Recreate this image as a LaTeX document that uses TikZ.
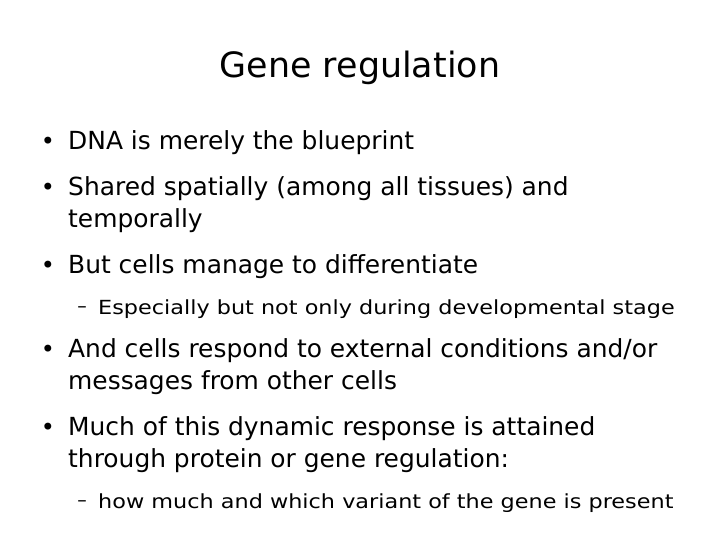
\documentclass[tikz,border=0pt]{standalone}
\usepackage{fontspec}
\setmainfont{DejaVu Sans}
\begin{document}
\begin{tikzpicture}[x=1bp,y=-1bp,
  ln/.style={anchor=west,inner sep=0pt,font=\fontsize{25}{30}\selectfont},
  sl/.style={anchor=west,inner sep=0pt,xscale=1.15,font=\fontsize{19.5}{22}\selectfont},
  bl/.style={anchor=center,inner sep=0pt,font=\fontsize{24}{26}\selectfont},
  sb/.style={anchor=center,inner sep=0pt,font=\fontsize{19}{22}\selectfont}]
\useasboundingbox (0,0) rectangle (720,540);
\node[inner sep=0pt,font=\fontsize{35}{40}\selectfont] (title) at (360,68) {Gene regulation};
\node[bl] (b1) at (48,143) {•};
\node[ln] (t1) at (68,143) {DNA is merely the blueprint};
\node[bl] (b2) at (48,189) {•};
\node[ln] (t2) at (68,189) {Shared spatially (among all tissues) and};
\node[ln] (t2b) at (68,221) {temporally};
\node[bl] (b3) at (48,267) {•};
\node[ln] (t3) at (68,267) {But cells manage to differentiate};
\node[sb] (s1) at (82,310) {–};
\node[sl] (u1) at (98,309) {Especially but not only during developmental stage};
\node[bl] (b4) at (48,351) {•};
\node[ln] (t4) at (68,351) {And cells respond to external conditions and/or};
\node[ln] (t4b) at (68,383) {messages from other cells};
\node[bl] (b5) at (48,429) {•};
\node[ln] (t5) at (68,429) {Much of this dynamic response is attained};
\node[ln] (t5b) at (68,461) {through protein or gene regulation:};
\node[sb] (s2) at (82,504) {–};
\node[sl] (u2) at (98,503) {how much and which variant of the gene is present};
\end{tikzpicture}
\end{document}
